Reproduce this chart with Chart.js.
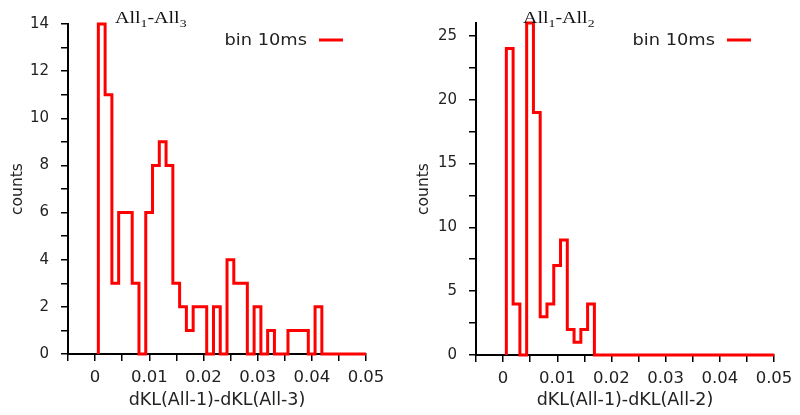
<!DOCTYPE html>
<html>
<head>
<meta charset="utf-8">
<script src="https://cdn.jsdelivr.net/npm/chart.js@4.4.0/dist/chart.umd.min.js"></script>
<style>
  html, body { margin: 0; padding: 0; background: #fff; }
  .wrap { display: flex; width: 800px; height: 415px; }
  .box { width: 400px; height: 415px; position: relative; }
</style>
</head>
<body>
<div class="wrap">
  <div class="box"><canvas id="left"></canvas></div>
  <div class="box"><canvas id="right"></canvas></div>
</div>
<script>
// histogram bins (bin 10ms), counts
const binStart = 0.0006;
const binWidth = 0.00125;
const countsAll3 = [14, 11, 3, 6, 6, 3, 0, 6, 8, 9, 8, 3, 2, 1, 2, 2, 0, 2, 0, 4,
                    3, 3, 0, 2, 0, 1, 0, 0, 1, 1, 1, 0, 2, 0, 0, 0, 0, 0, 0, 0];
const countsAll2 = [24, 4, 0, 26, 19, 3, 4, 7, 9, 2, 1, 2, 4, 0, 0, 0, 0, 0, 0, 0,
                    0, 0, 0, 0, 0, 0, 0, 0, 0, 0, 0, 0, 0, 0, 0, 0, 0, 0, 0, 0];
const xTickLabels = ['0', '0.01', '0.02', '0.03', '0.04', '0.05'];
const titleAll3 = ['All', '1', '-All', '3'];
const titleAll2 = ['All', '1', '-All', '2'];
const seriesLabel = 'bin 10ms';

const stepPoints = (counts) => {
  const pts = [{ x: binStart, y: 0 }];
  counts.forEach((c, i) => pts.push({ x: binStart + i * binWidth, y: c }));
  pts.push({ x: binStart + counts.length * binWidth, y: counts[counts.length - 1] });
  return pts;
};

const annotate = {
  id: 'annotate',
  afterDraw(chart, args, opts) {
    const { ctx, chartArea } = chart;
    // title with subscripts
    ctx.save();
    ctx.fillStyle = '#111';
    ctx.textBaseline = 'alphabetic';
    ctx.translate(chartArea.left + 47, 23);
    ctx.scale(1.25, 1);
    let cx = 0;
    opts.title.forEach((txt, i) => {
      const sub = i % 2 === 1;
      ctx.font = sub ? '11px "Liberation Serif"' : '16px "Liberation Serif"';
      ctx.fillText(txt, cx, sub ? 4 : 0);
      cx += ctx.measureText(txt).width;
    });
    ctx.restore();
    // legend
    const lineEnd = chartArea.right - 23;
    const lineStart = lineEnd - 24;
    ctx.save();
    ctx.strokeStyle = '#f00';
    ctx.lineWidth = 3;
    ctx.beginPath();
    ctx.moveTo(lineStart, 40);
    ctx.lineTo(lineEnd, 40);
    ctx.stroke();
    ctx.fillStyle = '#222';
    ctx.font = '15.5px "DejaVu Sans"';
    ctx.textAlign = 'right';
    ctx.textBaseline = 'alphabetic';
    ctx.translate(lineStart - 12, 44.5);
    ctx.scale(1.15, 1);
    ctx.fillText(chart.data.datasets[0].label, 0, 0);
    ctx.restore();
  }
};

const makeChart = (id, counts, title, xTitle, yMax, yStep, yLabelEvery, pad) => {
  const ctx = document.getElementById(id).getContext('2d');
  return new Chart(ctx, {
    type: 'line',
    data: {
      datasets: [{
        label: seriesLabel,
        data: stepPoints(counts),
        stepped: 'before',
        borderColor: '#f00',
        borderWidth: 3,
        pointRadius: 0,
        fill: false,
        clip: { left: 0, top: 5, right: 0, bottom: 5 },
      }],
    },
    options: {
      animation: false,
      responsive: true,
      maintainAspectRatio: false,
      layout: { padding: { left: 0, top: pad.top, right: pad.right, bottom: 0 } },
      plugins: {
        legend: { display: false },
        tooltip: { enabled: false },
        annotate: { title: title },
      },
      scales: {
        x: {
          type: 'linear',
          min: -0.005,
          max: 0.05,
          afterFit: (s) => { s.height = pad.xh; },
          grid: { drawOnChartArea: false, drawTicks: true, tickLength: 7, color: '#000', lineWidth: 1.5 },
          border: { display: true, color: '#000', width: 2 },
          ticks: {
            stepSize: 0.005,
            autoSkip: false,
            maxRotation: 0,
            padding: 7,
            color: '#222',
            font: { family: 'DejaVu Sans', size: 16.5 },
            callback: (v) => {
              const k = Math.round(v / 0.005);
              if (k < 0 || k % 2) return '';
              return xTickLabels[k / 2];
            },
          },
          title: {
            display: true,
            text: xTitle,
            color: '#222',
            font: { family: 'DejaVu Sans', size: 17.5 },
            padding: { top: 0, bottom: 4 },
          },
        },
        y: {
          min: 0,
          max: yMax,
          afterFit: (s) => { s.width = pad.yw; },
          grid: { drawOnChartArea: false, drawTicks: true, tickLength: 7, color: '#000', lineWidth: 1.5 },
          border: { display: true, color: '#000', width: 2 },
          ticks: {
            stepSize: yStep,
            includeBounds: false,
            autoSkip: false,
            padding: 12,
            color: '#222',
            font: { family: 'DejaVu Sans', size: 15 },
            callback: (v) => (Math.abs(v % yLabelEvery) < 1e-9 ? String(v) : ''),
          },
          title: {
            display: true,
            text: 'counts',
            color: '#222',
            font: { family: 'DejaVu Sans', size: 15.5 },
            padding: { top: pad.ytp, bottom: 0 },
          },
        },
      },
    },
    plugins: [annotate],
  });
};

makeChart('left', countsAll3, titleAll3, 'dKL(All-1)-dKL(All-3)', 14, 1, 2,
  { top: 24, right: 34, xh: 61, yw: 68, ytp: 9 });
makeChart('right', countsAll2, titleAll2, 'dKL(All-1)-dKL(All-2)', 26, 2.5, 5,
  { top: 23, right: 26, xh: 60, yw: 76, ytp: 15 });
</script>
</body>
</html>
